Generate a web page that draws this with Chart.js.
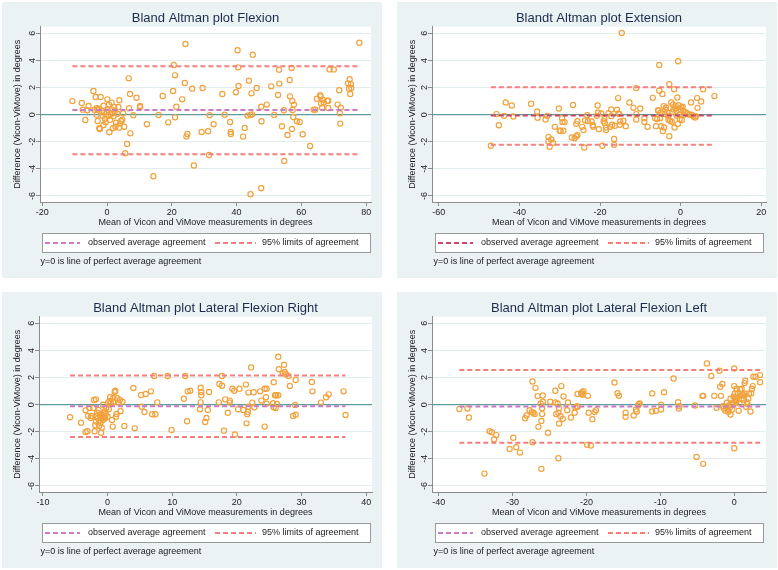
<!DOCTYPE html>
<html>
<head>
<meta charset="utf-8">
<title>Bland Altman plots</title>
<script src="https://cdn.jsdelivr.net/npm/chart.js@4.4.0/dist/chart.umd.min.js"></script>
<style>
  body { margin: 0; width: 778px; height: 570px; background: #fff; position: relative; overflow: hidden; }
  canvas.panel { position: absolute; background: #EAF2F3; }
</style>
</head>
<body>
<canvas id="flexChart" class="panel" width="380" height="276" style="left:2px;top:2px"></canvas>
<canvas id="extChart" class="panel" width="380" height="276" style="left:397px;top:2px"></canvas>
<canvas id="lfrChart" class="panel" width="380" height="276" style="left:2px;top:292px"></canvas>
<canvas id="lflChart" class="panel" width="380" height="276" style="left:397px;top:292px"></canvas>
<script>
// ---- shared text and ticks ----
const xAxisTitle = 'Mean of Vicon and ViMove measurements in degrees';
const yAxisTitle = 'Difference (Vicon-ViMove) in degrees';
const legendLabels = ['observed average agreement', '95% limits of agreement'];
const noteText = 'y=0 is line of perfect average agreement';
const yTicks = [-6, -4, -2, 0, 2, 4, 6];

// ---- Flexion ----
const flexTicks = [-20, 0, 20, 40, 60, 80];
const flexLines = [0.34, 3.57, -2.93]; // mean, upper, lower
const flexX = [
  -10.7, -7.8, -7.5, -6.7, -5.7, -6.1, -4.2, -3.5, -3.9, -3.2,
  -2.9, -2.5, -2.0, -3.2, -2.9, -2.4, -2.2, -1.6, -1.4, -1.1,
  -0.9, -0.6, -0.4, -1.1, -0.1, 0.1, 0.2, 0.4, 0.6, 0.9,
  0.7, 1.1, 1.4, 1.4, 1.7, 1.8, 2.0, 2.2, 2.4, 2.6,
  2.8, 3.2, 3.5, 3.8, 3.7, 4.0, 4.3, 4.7, 5.0, 5.3,
  5.6, 6.2, 6.7, 6.8, 7.1, 7.2, 8.1, 9.1, 10.2, 10.2,
  12.3, 14.3, 15.9, 17.2, 18.9, 20.4, 20.6, 21.0, 21.0, 21.4,
  23.2, 24.0, 24.2, 24.5, 24.8, 26.3, 26.8, 29.2, 29.5, 31.2,
  31.5, 31.7, 32.9, 35.6, 36.3, 38.0, 38.2, 38.2, 39.8, 40.3,
  40.5, 40.6, 42.0, 42.5, 43.8, 43.4, 44.3, 44.3, 44.6, 44.8,
  45.0, 46.2, 47.6, 47.7, 47.6, 49.3, 50.7, 51.6, 52.8, 53.1,
  53.2, 54.0, 54.6, 54.7, 55.7, 56.4, 56.5, 57.0, 57.1, 57.2,
  57.3, 57.5, 57.7, 58.6, 59.5, 60.4, 62.7, 63.8, 64.3, 64.8,
  65.8, 65.9, 66.1, 66.4, 66.6, 66.9, 68.0, 68.3, 68.3, 68.7,
  70.0, 71.2, 71.7, 71.9, 72.0, 72.2, 74.4, 74.7, 74.9, 75.1,
  75.3, 75.4, 77.9
];
const flexY = [
  1.0, 0.86, 0.37, -0.39, 0.64, 0.32, 1.75, 1.3, 0.37, 0.47,
  0.37, 0.44, 1.3, 0.0, -0.47, -1.0, -1.06, 0.27, -0.1, 0.66,
  0.15, -0.3, -0.57, -0.76, 0.2, 1.13, 0.34, -0.1, 0.74, -0.39,
  -1.3, 0.02, 0.39, 0.89, 0.1, -1.0, -0.12, 0.57, 0.27, -0.89,
  -0.59, 0.07, 0.57, 1.06, -0.96, -0.66, -0.47, -0.37, 0.1, -0.89,
  -2.85, -2.16, 2.68, 0.47, 1.52, -1.38, -0.05, 1.25, 0.64, 0.54,
  -0.71, -4.55, -0.02, 1.38, -0.57, 1.75, 3.66, 2.9, -0.2, 0.59,
  1.13, 2.34, 5.21, -1.62, -1.43, 1.92, -3.76, -1.28, 1.97, -1.23,
  -2.98, -0.05, -0.71, 1.52, 0.0, -0.54, -1.28, -1.43, 1.65, 4.75,
  3.49, 2.11, -1.62, -0.98, 2.51, -0.07, -0.02, -5.88, 1.57, 0.02,
  4.43, 1.97, 0.59, -0.49, -5.43, 0.74, 2.09, -0.02, 1.45, 3.32,
  2.29, -0.86, 0.32, -3.42, -1.5, 2.56, 1.35, 3.44, -1.06, 1.0,
  0.34, -0.17, 0.74, -0.49, -0.54, -1.45, -2.31, 0.37, 0.37, 1.18,
  1.43, 1.33, 0.84, 0.52, 1.11, 0.89, 1.03, 1.03, 0.49, 3.34,
  3.34, 0.74, 1.8, 0.1, -0.66, 0.52, 2.31, 1.92, 2.61, 1.52,
  2.24, 1.97, 5.31
];

// ---- Extension ----
const extTicks = [-60, -40, -20, 0, 20];
const extLines = [-0.06, 2.03, -2.23];
const extX = [
  -47.1, -45.7, -45.1, -43.8, -43.4, -41.9, -41.5, -37.1, -35.6, -35.5,
  -33.5, -33.1, -32.8, -32.8, -32.5, -32.1, -31.7, -31.2, -30.2, -30.0,
  -29.8, -29.4, -29.3, -29.1, -28.8, -26.7, -27.0, -26.3, -25.9, -25.6,
  -25.6, -25.9, -24.4, -24.1, -23.9, -23.7, -23.2, -23.0, -22.1, -21.8,
  -21.7, -20.8, -20.6, -20.5, -20.3, -19.7, -19.4, -19.1, -18.9, -18.8,
  -18.5, -18.5, -17.9, -17.5, -17.2, -17.2, -17.0, -16.5, -16.5, -16.3,
  -15.8, -15.5, -15.4, -15.2, -15.0, -15.1, -14.6, -14.2, -13.6, -12.7,
  -11.7, -11.0, -11.0, -11.0, -10.0, -9.0, -9.0, -8.2, -6.9, -6.3,
  -6.1, -5.8, -5.6, -5.5, -5.3, -5.3, -5.1, -5.0, -4.8, -4.5,
  -4.4, -4.2, -4.1, -4.0, -3.8, -3.6, -3.3, -3.1, -3.0, -2.8,
  -2.8, -2.6, -2.3, -2.2, -2.0, -1.9, -1.7, -1.6, -1.5, -1.3,
  -1.2, -1.0, -0.8, -0.7, -0.6, -0.5, -0.3, -0.2, 0.0, 0.2,
  0.3, 0.5, 0.7, 0.8, 1.2, 1.7, 2.2, 2.6, 2.8, 3.2,
  3.6, 3.8, 4.1, 4.2, 5.1, 5.6, 8.4
];
const extY = [
  -2.3, 0.04, -0.78, -0.09, 0.9, 0.68, -0.14, 0.8, 0.23, -0.23,
  -0.36, -0.09, -1.64, -1.98, -2.38, -1.84, -2.08, -0.9, 0.45, -1.19,
  -1.19, -0.26, -0.55, -1.19, -0.55, 0.71, -1.69, -1.74, -1.59, -0.48,
  -1.51, -0.68, -0.9, -1.14, -2.43, -0.43, -0.04, -0.48, -0.5, -0.78,
  -0.9, -0.09, 0.68, 0.16, -1.07, 0.09, -2.3, -0.48, -0.33, -0.63,
  -0.95, -1.14, 0.11, -0.9, -0.11, 0.38, -0.75, -2.23, -1.79, -0.82,
  0.36, 1.22, 0.09, 0.04, -0.5, -0.75, 6.03, -0.45, -0.85, 0.9,
  0.5, 1.96, 0.04, -0.36, 0.45, -0.26, -0.55, -0.9, 1.24, -0.26,
  -0.85, -0.33, 0.33, 0.28, 3.66, 1.76, -0.26, 0.14, -0.85, 1.52,
  -1.22, 0.63, -0.95, 0.04, 0.38, 0.53, 0.16, -0.09, -0.38, 2.25,
  -1.59, -0.45, 0.9, -0.53, 0.21, 0.73, 0.38, 1.88, -0.95, 0.45,
  0.63, -0.09, 1.27, -0.7, 3.94, 0.7, -0.01, -0.33, 0.38, 0.53,
  -0.4, 0.58, 0.28, -0.01, 0.18, 0.09, -0.01, 0.9, -0.01, -0.14,
  -0.21, -0.11, 1.22, 0.5, 0.97, 1.88, 1.37
];

// ---- Lateral flexion right ----
const lfrTicks = [-10, 0, 10, 20, 30, 40];
const lfrLines = [-0.12, 2.16, -2.39];
const lfrX = [
  -5.8, -4.1, -3.4, -3.4, -3.1, -3.0, -2.8, -2.6, -2.5, -2.2,
  -2.1, -2.0, -1.9, -1.8, -1.8, -1.7, -1.6, -1.5, -1.4, -1.3,
  -1.3, -1.2, -1.1, -1.0, -1.0, -0.9, -0.8, -0.7, -0.7, -0.6,
  -0.5, -0.4, -0.4, -0.3, -0.2, 0.0, 0.1, 0.2, 0.3, 0.4,
  0.5, 0.7, 0.8, 0.9, 0.9, 1.0, 1.1, 1.2, 1.3, 1.4,
  1.5, 1.7, 1.9, 2.0, 2.3, 2.6, 4.0, 4.2, 5.2, 5.3,
  5.7, 5.9, 6.7, 6.9, 7.2, 7.4, 7.7, 9.3, 9.9, 11.8,
  12.0, 12.3, 12.4, 12.8, 14.3, 14.4, 14.5, 14.5, 14.4, 15.1,
  15.3, 15.5, 15.7, 17.2, 17.3, 17.7, 17.7, 18.0, 18.2, 18.6,
  18.9, 18.9, 19.3, 19.6, 19.7, 20.2, 20.4, 21.0, 21.4, 21.5,
  21.6, 21.7, 21.8, 21.8, 22.2, 22.4, 22.6, 22.7, 23.6, 23.8,
  24.3, 24.3, 24.5, 24.6, 24.6, 25.6, 25.7, 25.7, 25.9, 26.0,
  26.1, 26.2, 26.4, 26.4, 26.5, 27.1, 27.3, 27.4, 27.6, 28.0,
  28.2, 28.7, 29.0, 29.1, 29.1, 31.6, 31.7, 33.0, 33.8, 34.2,
  36.5, 36.8
];
const lfrY = [
  -0.93, -1.33, -2.02, -0.42, -1.97, -0.84, -0.25, -0.98, -0.84, -0.25,
  0.34, -1.97, -1.52, -1.25, 0.39, -0.84, -0.59, -1.01, -0.39, -1.57,
  -1.18, -0.76, -1.33, -2.07, -0.98, -1.7, -0.84, -1.13, 0.0, -0.64,
  -0.89, -0.49, -1.01, -0.71, -0.25, -0.89, 0.15, -0.34, 0.27, 0.54,
  0.1, -1.13, -1.62, 0.47, 0.22, 0.2, 0.93, 1.03, -0.89, -0.69,
  0.47, 0.15, 0.34, -0.49, 0.22, -1.57, 1.23, -1.75, 0.71, -0.15,
  -0.54, 0.79, 0.98, -0.71, 2.11, -0.71, 0.17, 2.11, -1.87, 0.44,
  2.11, -1.23, 0.98, 1.03, -0.34, 1.25, 0.93, 0.69, 0.17, -1.28,
  -0.98, -0.39, 0.93, 0.17, 1.52, 1.4, 2.11, -1.92, 0.39, -0.59,
  0.3, 0.15, 1.18, 1.03, -2.21, -0.34, 1.18, -0.39, 1.48, -1.38,
  -0.71, -0.54, 0.89, -0.15, 2.75, 0.15, 0.91, -0.2, 0.98, 0.3,
  -1.62, 1.18, 0.54, 0.07, 1.18, 0.1, -0.2, 1.65, 0.69, -0.25,
  0.69, 0.05, 0.69, 3.54, 2.61, 2.31, 2.95, 2.41, 2.24, 2.11,
  1.38, -0.84, -0.02, -0.74, 1.82, 1.67, 0.98, 0.15, 0.54, 0.76,
  0.98, -0.76
];

// ---- Lateral flexion left ----
const lflTicks = [-40, -30, -20, -10, 0];
const lflLines = [-0.14, 2.55, -2.82];
const lflX = [
  -37.2, -36.1, -35.9, -33.8, -33.1, -32.8, -32.5, -32.2, -30.4, -29.9,
  -29.5, -29.0, -28.3, -28.1, -27.7, -27.4, -27.3, -27.3, -27.2, -27.0,
  -26.9, -26.6, -26.5, -26.2, -26.1, -26.1, -26.0, -26.0, -25.9, -25.9,
  -25.2, -24.9, -24.2, -24.2, -24.1, -23.9, -23.8, -23.8, -23.7, -23.7,
  -23.5, -23.4, -23.2, -23.1, -22.6, -22.5, -22.1, -21.6, -21.5, -21.3,
  -21.2, -21.2, -20.7, -20.6, -20.5, -20.4, -19.9, -19.8, -19.7, -19.4,
  -19.2, -18.9, -18.7, -16.2, -15.8, -15.6, -14.7, -14.7, -13.6, -13.3,
  -13.2, -13.0, -12.9, -12.8, -11.1, -11.1, -10.6, -9.9, -9.9, -9.5,
  -8.2, -7.6, -7.5, -7.4, -5.3, -5.1, -4.3, -4.2, -4.2, -3.7,
  -3.1, -2.7, -2.4, -2.0, -1.9, -1.8, -1.6, -1.5, -1.4, -1.2,
  -1.1, -1.0, -0.9, -0.8, -0.7, -0.6, -0.5, -0.5, -0.4, -0.3,
  -0.2, -0.1, 0.0, 0.0, 0.0, 0.1, 0.1, 0.2, 0.2, 0.3,
  0.3, 0.4, 0.5, 0.6, 0.7, 0.8, 0.9, 1.0, 1.0, 1.1,
  1.2, 1.3, 1.4, 1.4, 1.5, 1.6, 1.7, 1.8, 1.9, 2.0,
  2.2, 2.3, 2.4, 2.5, 2.6, 2.9, 3.5, 3.5
];
const lflY = [
  -0.33, -0.28, -0.95, -5.09, -1.96, -2.03, -2.55, -2.25, -3.27, -2.44,
  -3.14, -3.54, -1.0, -0.8, -0.41, -0.55, 1.71, -2.77, -0.6, -0.7,
  1.24, 0.63, -1.64, 0.09, -4.74, -1.2, -0.26, -0.7, 0.21, 0.68,
  -2.08, 0.21, 0.16, 1.02, -0.7, 0.09, -3.96, -0.6, -0.26, -1.39,
  -0.85, 1.37, -1.05, 0.6, -0.41, 0.16, -0.95, -0.6, -0.21, -0.11,
  0.78, -0.16, 0.8, 0.92, 0.73, 1.0, -2.97, 0.65, -0.6, -3.02,
  -1.07, -0.55, -0.41, 1.64, 0.85, 0.65, -0.6, -0.9, -0.8, -0.36,
  -0.51, -0.06, 0.04, 0.09, -0.51, 0.83, -0.46, -0.01, -0.36, 0.92,
  1.93, 0.18, -0.28, -0.11, -0.06, -3.86, 0.65, 0.65, -4.37, 3.04,
  2.11, 0.65, -0.23, 2.5, 1.32, 0.65, 1.52, -0.11, -0.28, -0.46,
  -0.16, 0.14, -0.33, -0.53, -0.06, -0.21, -0.73, 0.43, 0.09, -0.36,
  -0.01, 0.58, 2.67, 1.37, -3.22, 0.83, 0.28, 0.43, 0.33, 1.17,
  0.21, 0.51, 0.83, -0.46, 0.09, 1.12, 0.68, 1.17, 0.46, 0.78,
  0.68, 0.38, 1.59, 0.83, 1.76, -0.16, 0.18, 0.04, 0.43, 0.83,
  -0.51, 0.83, 1.17, 1.37, 2.06, 2.06, 1.66, 2.18
];

// colours
const POINT_COLOR = '#F2A23C';
const MEAN_COLOR = '#C97BC6';
const LOA_COLOR = '#F47F7F';
const ZERO_COLOR = '#5E9C9C';
const GRID_COLOR = '#E3ECEF';
const AXIS_COLOR = '#8C8C8C';
const TEXT_COLOR = '#222';
const TITLE_COLOR = '#1C2C4C';

Chart.defaults.font.family = "'Liberation Sans', Arial, sans-serif";
Chart.defaults.font.size = 9;
Chart.defaults.color = TEXT_COLOR;

const PANEL_W = 380, PANEL_H = 276;
const Y_MIN = -6.45, Y_MAX = 6.5;

// white plot region, like Stata's plotregion
const plotBg = {
    id: 'plotBg',
    beforeDraw(chart) {
        const { ctx, chartArea: a } = chart;
        ctx.save();
        ctx.fillStyle = '#fff';
        ctx.fillRect(a.left, a.top, a.right - a.left, a.bottom - a.top);
        ctx.restore();
    }
};

// legend box + note under the x axis title
const legendNote = {
    id: 'legendNote',
    afterDraw(chart, args, opts) {
        const { ctx, chartArea: a } = chart;
        const mid = (a.left + a.right) / 2;
        const bx = Math.round(mid - 164), by = 231, bw = 328, bh = 19;
        const cy = by + bh / 2 + 0.5;
        ctx.save();
        ctx.fillStyle = '#fff';
        ctx.fillRect(bx, by, bw, bh);
        ctx.strokeStyle = '#9A9A9A';
        ctx.lineWidth = 1;
        ctx.strokeRect(bx + 0.5, by + 0.5, bw, bh);

        const samples = [[bx + 3, bx + 38, opts.meanColor], [bx + 173, bx + 214, LOA_COLOR]];
        ctx.lineWidth = 2;
        ctx.setLineDash([5, 3]);
        samples.forEach(s => {
            ctx.strokeStyle = s[2];
            ctx.beginPath();
            ctx.moveTo(s[0], cy);
            ctx.lineTo(s[1], cy);
            ctx.stroke();
        });
        ctx.setLineDash([]);

        ctx.fillStyle = TEXT_COLOR;
        ctx.font = "9px 'Liberation Sans', Arial, sans-serif";
        ctx.textBaseline = 'middle';
        ctx.textAlign = 'left';
        ctx.fillText(legendLabels[0], bx + 46, cy);
        ctx.fillText(legendLabels[1], bx + 220, cy);
        ctx.fillText(noteText, bx - 1.5, 260);
        ctx.restore();
    }
};

function hLine(y, x0, x1) {
    return [{ x: x0, y: y }, { x: x1, y: y }];
}

function makePlot(cfg) {
    const canvas = document.getElementById(cfg.id);
    if (!canvas) return;
    const pts = cfg.xs.map((x, i) => ({ x: x, y: cfg.ys[i] }));
    const lo = Math.min(...cfg.xs), hi = Math.max(...cfg.xs);
    const [mean, upper, lower] = cfg.lines;
    const dashed = (data, color, order) => ({
        data: data, showLine: true, borderColor: color, borderWidth: 2,
        borderDash: [5, 3], pointRadius: 0, order: order
    });

    return new Chart(canvas.getContext('2d'), {
        type: 'scatter',
        data: {
            datasets: [
                { data: hLine(0, cfg.xMin, cfg.xMax), showLine: true, borderColor: ZERO_COLOR,
                  borderWidth: 1.3, pointRadius: 0, order: 3 },
                { data: pts, pointRadius: 2.6, pointBorderWidth: 1.2, borderColor: POINT_COLOR,
                  backgroundColor: 'rgba(0,0,0,0)', order: 2 },
                dashed(hLine(mean, lo, hi), cfg.meanColor, 1),
                dashed(hLine(upper, lo, hi), LOA_COLOR, 0),
                dashed(hLine(lower, lo, hi), LOA_COLOR, 0)
            ]
        },
        options: {
            responsive: false,
            animation: false,
            devicePixelRatio: 1,
            layout: { padding: { left: 6, right: PANEL_W - cfg.plotRight, top: 0, bottom: 48 } },
            plugins: {
                legend: { display: false },
                tooltip: { enabled: false },
                title: {
                    display: true, text: cfg.title, color: TITLE_COLOR, fullSize: false,
                    font: { size: 13, weight: 'normal' }, padding: { top: 9, bottom: 0 }
                },
                legendNote: { meanColor: cfg.meanColor }
            },
            scales: {
                x: {
                    type: 'linear', min: cfg.xMin, max: cfg.xMax,
                    afterBuildTicks: s => { s.ticks = cfg.xTicks.map(v => ({ value: v })); },
                    afterFit: s => { s.height = 28; },
                    grid: { drawOnChartArea: false, tickLength: 4, tickColor: AXIS_COLOR },
                    border: { color: AXIS_COLOR },
                    ticks: { padding: 1, maxRotation: 0, autoSkip: false, color: TEXT_COLOR },
                    title: { display: true, text: xAxisTitle, color: TEXT_COLOR, padding: { top: 0, bottom: 2 } }
                },
                y: {
                    type: 'linear', min: Y_MIN, max: Y_MAX,
                    afterBuildTicks: s => { s.ticks = yTicks.map(v => ({ value: v })); },
                    afterFit: s => { s.width = cfg.plotLeft - 6; },
                    grid: { color: GRID_COLOR, tickLength: 4, tickColor: AXIS_COLOR },
                    border: { color: AXIS_COLOR },
                    ticks: { minRotation: 90, maxRotation: 90, crossAlign: 'center', padding: -1, color: TEXT_COLOR },
                    title: { display: true, text: yAxisTitle, color: TEXT_COLOR, padding: { top: 4, bottom: 0 } }
                }
            }
        },
        plugins: [plotBg, legendNote]
    });
}

makePlot({ id: 'flexChart', title: 'Bland Altman plot Flexion', xs: flexX, ys: flexY, lines: flexLines,
           xTicks: flexTicks, xMin: -20.7, xMax: 81.5, plotLeft: 38, plotRight: 369, meanColor: MEAN_COLOR });
makePlot({ id: 'extChart', title: 'Blandt Altman plot Extension', xs: extX, ys: extY, lines: extLines,
           xTicks: extTicks, xMin: -61.7, xMax: 21.2, plotLeft: 35, plotRight: 369, meanColor: '#C8486C' });
makePlot({ id: 'lfrChart', title: 'Bland Altman plot Lateral Flexion Right', xs: lfrX, ys: lfrY, lines: lfrLines,
           xTicks: lfrTicks, xMin: -10.6, xMax: 40.9, plotLeft: 37, plotRight: 370, meanColor: MEAN_COLOR });
makePlot({ id: 'lflChart', title: 'Bland Altman plot Lateral Flexion Left', xs: lflX, ys: lflY, lines: lflLines,
           xTicks: lflTicks, xMin: -40.9, xMax: 4.3, plotLeft: 35, plotRight: 369, meanColor: MEAN_COLOR });
</script>
</body>
</html>
